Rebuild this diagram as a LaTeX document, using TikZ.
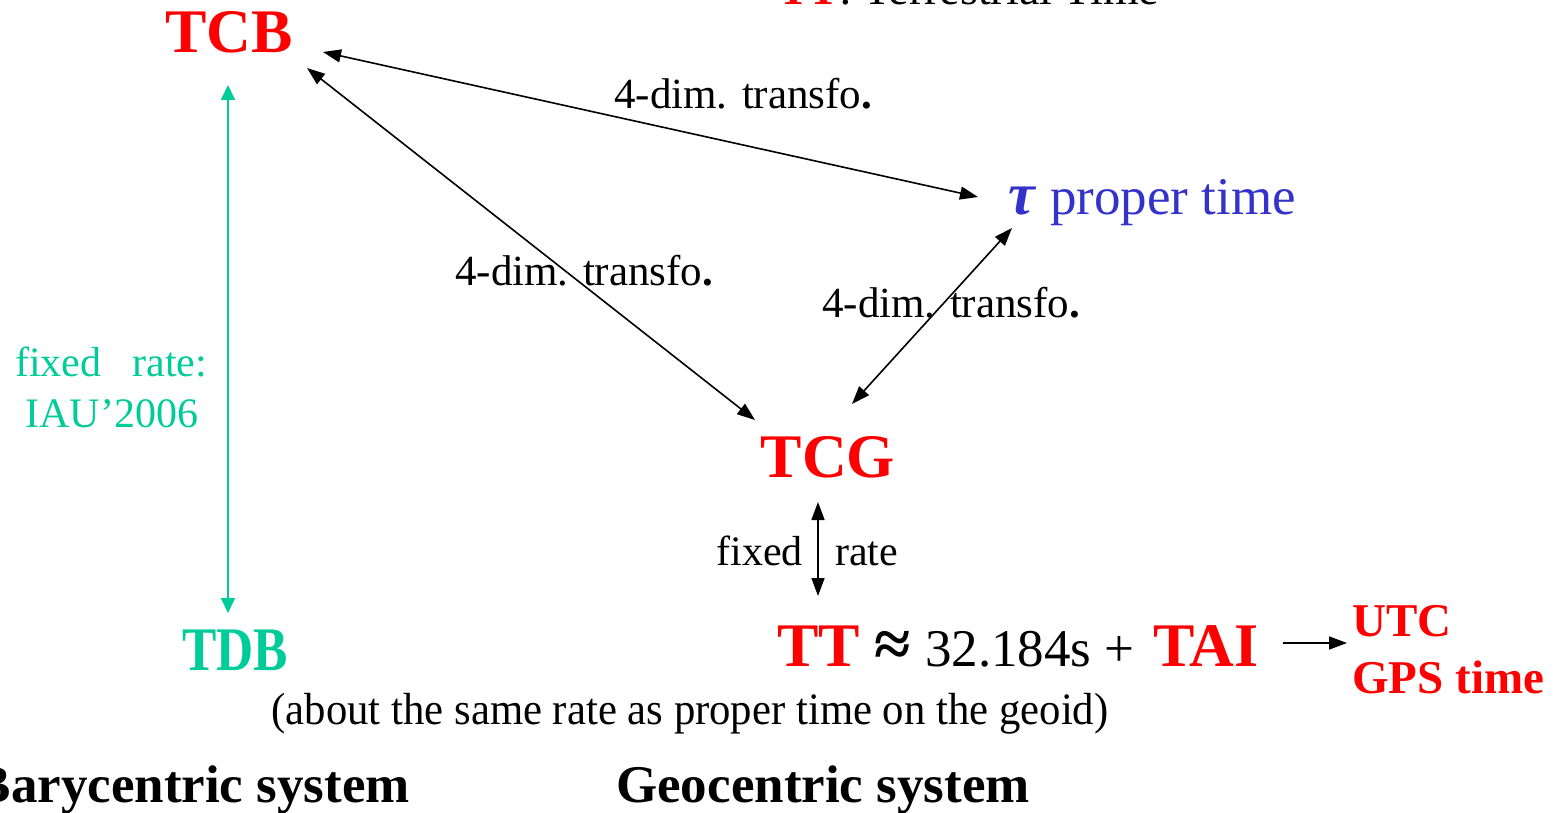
\documentclass[tikz,border=0pt]{standalone}
\usepackage{fontspec}
\setmainfont{Liberation Serif}
\usetikzlibrary{arrows.meta,calc}
\definecolor{tred}{RGB}{255,0,0}
\definecolor{tteal}{RGB}{0,204,153}
\definecolor{tblue}{RGB}{51,51,204}
\newcommand{\fsz}[1]{\fontsize{#1}{#1}\selectfont}
\begin{document}
\begin{tikzpicture}[x=1pt,y=-1pt,
  lbl/.style={inner sep=0pt, anchor=base},
  lblw/.style={inner sep=0pt, anchor=base west},
  bigred/.style={text=tred, font=\fsz{62}\bfseries},
  dimlbl/.style={lblw, font=\fsz{43}},
  conn/.style={line width=1.6pt, black, {Triangle[length=18pt,width=13pt]}-{Triangle[length=18pt,width=13pt]}},
  tconn/.style={line width=2pt, tteal, {Triangle[length=15pt,width=14pt]}-{Triangle[length=15pt,width=14pt]}}]
\useasboundingbox (0,0) rectangle (1564,813);

% nodes
\node[lblw, font=\fsz{46}] (ttdef) at (778,5) {\textcolor{tred}{\bfseries TT}: Terrestrial Time};
\node[lbl, bigred] (tcb) at (229,53) {TCB};
\node[lblw, text=tblue, font=\fsz{53}] (tau) at (1008,215) {{\fsz{60}\bfseries\itshape τ}\hspace{2pt} proper time};
\node[lbl, bigred] (tcg) at (828,477) {TCG};
\node[lblw, bigred] (tt) at (777,666) {TT};
\node[lblw, font=\fsz{66}\bfseries] (approx) at (874,666) {≈};
\node[lblw, font=\fsz{53}] (num) at (925,666) {32.184s +};
\node[lblw, bigred] (tai) at (1153,666) {TAI};
\node[lblw, text=tred, font=\fsz{47}\bfseries] (utc) at (1352,636) {UTC};
\node[lblw, text=tred, font=\fsz{47}\bfseries] (gps) at (1352,693) {GPS time};
\node[lbl, text=tteal, font=\fsz{62}\bfseries, xscale=0.83] (tdb) at (235,670) {TDB};
\node[lblw, text=tteal, font=\fsz{42}] (fr1) at (15,376) {\makebox[192pt][s]{fixed\hfill rate:}};
\node[lbl, text=tteal, font=\fsz{42}] (fr2) at (112,427) {IAU’2006};
\node[dimlbl] (d1) at (614,109) {4-dim. transfo\textbf{.}};
\node[dimlbl] (d2) at (455,285) {4-dim. transfo\textbf{.}};
\node[dimlbl] (d3) at (822,317) {4-dim. transfo\textbf{.}};
\node[inner sep=0pt, anchor=base east, font=\fsz{42}] (fx) at (803,565) {fixed};
\node[lblw, font=\fsz{42}] (rt) at (835,565) {rate};
\node[lbl, font=\fsz{45}, xscale=0.95] (about) at (690,724) {(about the same rate as proper time on the geoid)};
\node[inner sep=0pt, anchor=base east, font=\fsz{53}\bfseries] (bary) at (410,802) {Barycentric system};
\node[lblw, font=\fsz{53}\bfseries] (geo) at (616,802) {Geocentric system};

% connectors
\draw[conn] ($(tcb.base)+(94,-1)$) -- ($(tau.base west)+(-30,-18)$);
\draw[conn] ($(tcb.base)+(78,15)$) -- ($(tcg.base)+(-73,-57)$);
\draw[conn] ($(tau.base west)+(4,13)$) -- ($(tcg.base)+(24,-73)$);
\draw[conn] ($(tcg.base)+(-10,25)$) -- ($(tt.base west)+(41,-70)$);
\draw[tconn] ($(tcb.base)+(-1,32)$) -- ($(tdb.base)+(-7,-57)$);
\draw[line width=1.6pt, -{Triangle[length=18pt,width=13pt]}] ($(tai.base west)+(130,-23)$) -- ($(utc.base west)+(-5,7)$);
\end{tikzpicture}
\end{document}
